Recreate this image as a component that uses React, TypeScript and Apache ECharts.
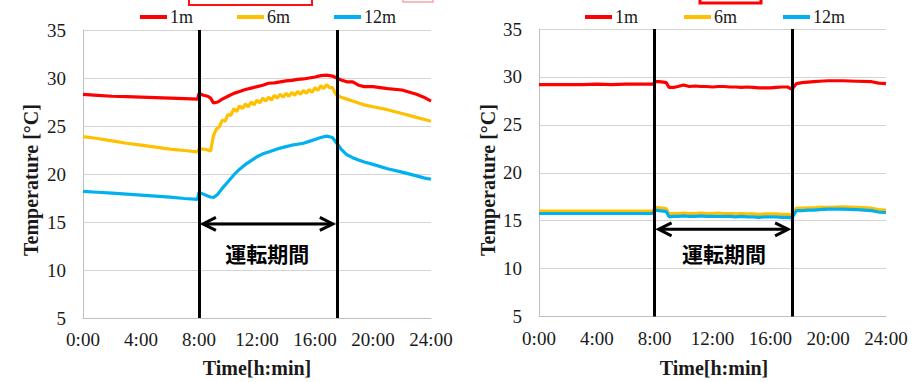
import React, { useEffect, useRef } from "react";
import * as echarts from "echarts";

// ---- data ----
const hours = [0, 1, 2, 3, 4, 5, 6, 7, 7.9, 8.0, 8.3, 8.6, 8.8, 9.0, 9.3, 9.6, 10, 10.4, 10.8, 11.2, 11.6, 12, 12.4, 12.8, 13.2, 13.6, 14, 14.4, 14.8, 15.2, 15.6, 16, 16.4, 16.8, 17.2, 17.5, 17.8, 18.2, 18.6, 19, 19.4, 20, 21, 22, 23, 23.5, 24];

const left1m = [28.3, 28.2, 28.1, 28.05, 28.0, 27.95, 27.9, 27.85, 27.8, 28.4, 28.2, 28.1, 27.9, 27.4, 27.5, 27.8, 28.1, 28.4, 28.6, 28.8, 28.95, 29.1, 29.25, 29.45, 29.5, 29.6, 29.7, 29.75, 29.85, 29.9, 30.0, 30.1, 30.25, 30.3, 30.2, 30.0, 29.8, 29.6, 29.6, 29.25, 29.1, 29.1, 28.9, 28.75, 28.3, 28.0, 27.6];
const left12m = [18.2, 18.1, 18.0, 17.9, 17.8, 17.7, 17.6, 17.45, 17.35, 18.1, 17.9, 17.7, 17.6, 17.55, 17.9, 18.5, 19.2, 19.9, 20.5, 21.0, 21.4, 21.8, 22.1, 22.3, 22.5, 22.7, 22.85, 23.0, 23.1, 23.2, 23.4, 23.6, 23.8, 23.95, 23.8, 23.2, 22.6, 22.0, 21.7, 21.45, 21.25, 21.0, 20.55, 20.2, 19.8, 19.6, 19.45];

// the 6m sensor on the left is noisy during operation: read at a finer step
const hoursLeft6m = [0, 1, 2, 3, 4, 5, 6, 7, 7.9, 8.0, 8.3, 8.6, 8.8, 9.0, 9.2, 9.4, 9.6, 9.8, 10.0, 10.2, 10.4, 10.6, 10.8, 11.0, 11.2, 11.4, 11.6, 11.8, 12.0, 12.2, 12.4, 12.6, 12.8, 13.0, 13.2, 13.4, 13.6, 13.8, 14.0, 14.2, 14.4, 14.6, 14.8, 15.0, 15.2, 15.4, 15.6, 15.8, 16.0, 16.2, 16.4, 16.6, 16.8, 17.0, 17.2, 17.4, 17.5, 17.8, 18.2, 18.6, 19, 19.4, 20, 21, 22, 23, 23.5, 24];
const left6m = [23.9, 23.7, 23.45, 23.2, 23.0, 22.8, 22.6, 22.45, 22.3, 22.6, 22.6, 22.5, 22.4, 24.0, 24.7, 24.9, 25.6, 25.5, 26.2, 26.1, 26.8, 26.5, 27.1, 26.8, 27.3, 27.0, 27.5, 27.2, 27.7, 27.4, 27.9, 27.6, 28.0, 27.7, 28.2, 27.9, 28.3, 28.0, 28.4, 28.1, 28.5, 28.2, 28.6, 28.3, 28.7, 28.4, 28.8, 28.5, 29.0, 28.7, 29.2, 28.9, 29.3, 29.0, 29.0, 28.4, 28.2, 28.0, 27.8, 27.6, 27.4, 27.2, 27.0, 26.7, 26.3, 25.9, 25.7, 25.5];

const right1m = [29.2, 29.2, 29.2, 29.2, 29.25, 29.2, 29.25, 29.25, 29.25, 29.5, 29.5, 29.45, 29.4, 28.9, 28.9, 29.0, 29.15, 29.0, 29.05, 29.0, 29.0, 28.95, 29.0, 29.0, 28.95, 28.95, 28.9, 28.95, 28.9, 28.85, 28.85, 28.85, 28.9, 28.95, 28.95, 28.7, 29.3, 29.4, 29.45, 29.5, 29.55, 29.6, 29.6, 29.55, 29.5, 29.35, 29.3];
const right6m = [16.0, 16.0, 16.0, 16.0, 16.0, 16.0, 16.0, 16.0, 16.0, 16.4, 16.35, 16.3, 16.25, 15.7, 15.75, 15.75, 15.8, 15.75, 15.75, 15.8, 15.75, 15.75, 15.8, 15.75, 15.75, 15.7, 15.75, 15.7, 15.7, 15.65, 15.7, 15.7, 15.7, 15.65, 15.65, 15.6, 16.3, 16.3, 16.35, 16.35, 16.4, 16.4, 16.45, 16.4, 16.3, 16.15, 16.1];
const right12m = [15.75, 15.75, 15.75, 15.75, 15.75, 15.75, 15.75, 15.75, 15.75, 16.1, 16.05, 16.0, 15.95, 15.4, 15.45, 15.45, 15.5, 15.45, 15.45, 15.5, 15.45, 15.45, 15.45, 15.45, 15.45, 15.4, 15.45, 15.4, 15.4, 15.35, 15.4, 15.4, 15.4, 15.35, 15.35, 15.3, 16.05, 16.05, 16.1, 16.1, 16.15, 16.2, 16.2, 16.15, 16.05, 15.9, 15.85];

const seriesNames = ["1m", "6m", "12m"];
const colors = ["#ff0000", "#ffc000", "#00b0f0"];
const xTicks = [0, 4, 8, 12, 16, 20, 24];
const opStart = 8;
const opEnd = 17.5;
const yMin = 5;
const yMax = 35;
const yStep = 5;
const periodLabel = "運転期間";
const yTitle = "Temperature [°C]";
const xTitle = "Time[h:min]";

const serif = "'Liberation Serif', 'Times New Roman', serif";

export default function App() {
  const ref = useRef<HTMLDivElement>(null);
  useEffect(() => {
    if (!ref.current) return;
    const chart = echarts.init(ref.current, undefined, { renderer: "svg" });
    const grids = [
      { left: 83, top: 30, width: 348, height: 288 },
      { left: 539, top: 29, width: 347, height: 287.5 },
    ];
    const mkX = (i: number) => ({
      type: "value",
      gridIndex: i,
      min: 0,
      max: 24,
      interval: 4,
      axisLine: { show: true, lineStyle: { color: "#bfbfbf", width: 1 } },
      axisTick: { show: false },
      splitLine: { show: false },
      axisLabel: {
        fontFamily: serif,
        fontSize: 19,
        color: "#1a1a1a",
        margin: 12,
        formatter: (v: number) => (xTicks.includes(v) ? `${v}:00` : ""),
      },
    });
    const mkY = (i: number) => ({
      type: "value",
      gridIndex: i,
      min: yMin,
      max: yMax,
      interval: yStep,
      axisLine: { show: true, lineStyle: { color: "#bfbfbf", width: 1 } },
      axisTick: { show: false },
      splitLine: { show: true, lineStyle: { color: "#d4d4d4", width: 1 } },
      axisLabel: { fontFamily: serif, fontSize: 19, color: "#1a1a1a", margin: 17 },
    });
    const sets = [
      [
        [hours, left1m],
        [hoursLeft6m, left6m],
        [hours, left12m],
      ],
      [
        [hours, right1m],
        [hours, right6m],
        [hours, right12m],
      ],
    ];
    const series: any[] = [];
    sets.forEach((group, gi) => {
      group.forEach(([hs, vals], si) => {
        const s: any = {
          type: "line",
          name: seriesNames[si],
          xAxisIndex: gi,
          yAxisIndex: gi,
          data: hs.map((h, k) => [h, vals[k]]),
          showSymbol: false,
          symbol: "none",
          lineStyle: { color: colors[si], width: 3.2 },
          itemStyle: { color: colors[si] },
          z: 2 + si,
        };
        if (si === 2) {
          s.markLine = {
            silent: true,
            symbol: ["none", "none"],
            label: { show: false },
            lineStyle: { color: "#000", width: 3, type: "solid" },
            data: [{ xAxis: opStart }, { xAxis: opEnd }],
            z: 10,
          };
        }
        series.push(s);
      });
    });
    const mkLegend = (left: number, top: number, gap: number) => ({
      left,
      top,
      itemWidth: 27,
      itemHeight: 4,
      itemGap: gap,
      icon: "rect",
      data: seriesNames,
      selectedMode: false,
      textStyle: { fontFamily: serif, fontSize: 18, color: "#1a1a1a", padding: [0, 0, 0, -2] },
      padding: 0,
    });
    chart.setOption({
      animation: false,
      backgroundColor: "#ffffff",
      grid: grids,
      xAxis: [mkX(0), mkX(1)],
      yAxis: [mkY(0), mkY(1)],
      legend: [mkLegend(140, 8, 44), mkLegend(585, 8, 46)],
      series,
    });

    const px = (gi: number, x: number, y: number) =>
      chart.convertToPixel({ gridIndex: gi }, [x, y]) as number[];
    const graphics: any[] = [];
    const arrowY = [14.8, 14.1];
    const labelPos = [
      [12.7, 11.8],
      [12.8, 11.6],
    ];
    [0, 1].forEach((gi) => {
      const a = px(gi, opStart + 0.27, arrowY[gi]);
      const b = px(gi, opEnd - 0.27, arrowY[gi]);
      const st = { stroke: "#000", lineWidth: 3, fill: "none" };
      graphics.push({ type: "line", shape: { x1: a[0] + 1, y1: a[1], x2: b[0] - 1, y2: b[1] }, style: st, z: 20 });
      graphics.push({ type: "polyline", shape: { points: [[a[0] + 13, a[1] - 6.5], [a[0], a[1]], [a[0] + 13, a[1] + 6.5]] }, style: st, z: 20 });
      graphics.push({ type: "polyline", shape: { points: [[b[0] - 13, b[1] - 6.5], [b[0], b[1]], [b[0] - 13, b[1] + 6.5]] }, style: st, z: 20 });
      const t = px(gi, labelPos[gi][0], labelPos[gi][1]);
      graphics.push({
        type: "text",
        x: t[0],
        y: t[1],
        z: 20,
        style: {
          text: periodLabel,
          fontFamily: "'Noto Sans CJK JP', sans-serif",
          fontWeight: "bold",
          fontSize: 21,
          fill: "#000",
          textAlign: "center",
          textVerticalAlign: "middle",
        },
      });
    });
    // axis titles
    const yTitleX = [31, 488];
    const xTitleX = [257, 714];
    [0, 1].forEach((gi) => {
      graphics.push({
        type: "text",
        x: yTitleX[gi],
        y: 180,
        rotation: Math.PI / 2,
        style: {
          text: yTitle,
          fontFamily: serif,
          fontWeight: "bold",
          fontSize: 20,
          fill: "#1a1a1a",
          textAlign: "center",
          textVerticalAlign: "middle",
        },
      });
      graphics.push({
        type: "text",
        x: xTitleX[gi],
        y: 368,
        style: {
          text: xTitle,
          fontFamily: serif,
          fontWeight: "bold",
          fontSize: 20,
          fill: "#1a1a1a",
          textAlign: "center",
          textVerticalAlign: "middle",
        },
      });
    });
    // cropped red boxes at top edge
    graphics.push({ type: "rect", shape: { x: 189, y: -10, width: 123, height: 15 }, style: { stroke: "#ff1010", lineWidth: 2, fill: "none" } });
    graphics.push({ type: "rect", shape: { x: 403, y: -10, width: 30, height: 12 }, style: { stroke: "#f5a5a5", lineWidth: 1.5, fill: "none" } });
    graphics.push({ type: "rect", shape: { x: 700, y: -10, width: 61, height: 13 }, style: { stroke: "#ff0000", lineWidth: 3, fill: "none" } });

    chart.setOption({ graphic: graphics });
    return () => chart.dispose();
  }, []);
  return (
    <div
      ref={ref}
      style={{ position: "absolute", left: 0, top: 0, width: 924, height: 382, background: "#fff" }}
    />
  );
}
